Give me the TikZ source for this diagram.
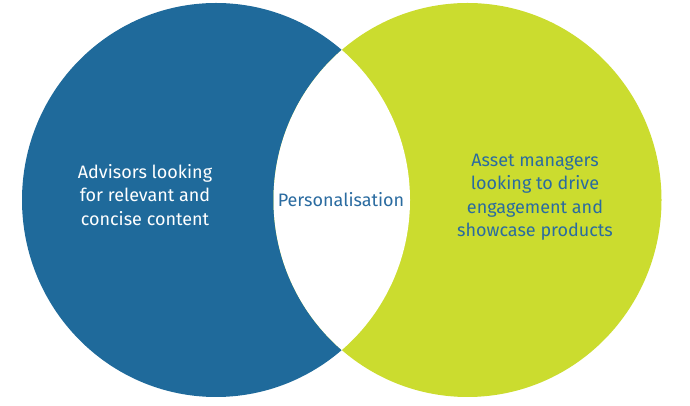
\documentclass[tikz,border=0pt]{standalone}
\usepackage{fontspec}
\setmainfont{Fira Sans}
\definecolor{vblue}{HTML}{1F6A9B}
\definecolor{vgreen}{HTML}{CBDC2F}
\definecolor{vtext}{HTML}{2A6BA0}
\begin{document}
\begin{tikzpicture}[x=1pt,y=1pt,
  lbl/.style={align=center,font=\fontsize{18}{23.5}\selectfont,inner sep=0pt}]
\useasboundingbox (0,0) rectangle (690,406);
\fill[vblue] (216,206) ellipse [x radius=194, y radius=197];
\fill[vgreen] (467.5,206) ellipse [x radius=194, y radius=197];
\begin{scope}
  \clip (216,206) ellipse [x radius=194, y radius=197];
  \fill[white] (467.5,206) ellipse [x radius=194, y radius=197];
\end{scope}
\node[lbl,text=white] (adv) at (145,211) {Advisors looking\\for relevant and\\concise content};
\node[lbl,text=vtext] (pers) at (341,206) {Personalisation};
\node[lbl,text=vtext] (asset) at (535,209) {Asset managers\\looking to drive\\engagement and\\showcase products};
\end{tikzpicture}
\end{document}
